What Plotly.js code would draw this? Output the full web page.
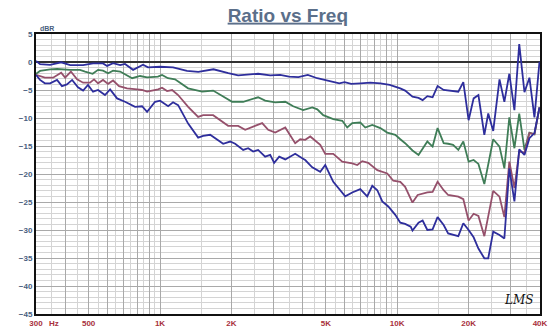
<!DOCTYPE html>
<html>
<head>
<meta charset="utf-8">
<script src="https://cdn.plot.ly/plotly-3.0.1.min.js"></script>
<style>html,body{margin:0;padding:0;background:#fff;}#chart{width:560px;height:334px;}</style>
</head>
<body>
<div id="chart"></div>
<script>
// ---- data (frequency in Hz, level in dBR) ----
var freqA = [300,312,344,383,418,474,522,575,598,634,679,712,770,848,890,1000,1135,1300,1450,1680,1940,2135,2590,2915,3210,3500,3830,4200,4600,5100,5700,6000,6400,7000,7700,8500,9300,10300,10800,11600,12300,12800,13400,14100,14800,15700,16400,17200,18100,19000,20000,21000,22000,23300,24200,25400,27000,28300,29700,31200,32700,34400,36100,37900,39800];
var dbA   = [0.2,-0.4,-0.5,-0.05,-0.55,-0.55,-0.25,-0.25,-0.7,-0.2,-0.55,-0.35,-1.4,-0.5,-0.95,-0.85,-0.95,-1.6,-1.75,-1.3,-2.0,-2.4,-2.1,-2.4,-2.3,-2.6,-2.7,-2.3,-2.9,-3.3,-3.8,-3.6,-3.9,-3.8,-3.7,-3.8,-4.1,-4.7,-5.1,-6.2,-6.4,-6.8,-6.1,-6.3,-4.3,-5.0,-5.1,-5.2,-5.3,-3.6,-10.4,-6.5,-5.9,-13.0,-9.2,-12.3,-3.1,-7.1,-2.1,-8.6,3.2,-5.4,-2.8,-9.9,0.05];

var freqB = [300,312,344,368,418,460,483,520,548,575,604,634,679,763,824,882,980,1020,1080,1157,1314,1505,1675,2014,2242,2447,2592,2775,3059,3373,3644,4013,4383,4602,4877,5376,5866,6156,6463,6986,7333,7850,8486,9080,9815,10305,10800,11600,12300,13400,14100,14800,15700,16400,17200,18100,19000,20000,21000,22000,23300,25400,27000,28300,29700,31200,32700,34400,36100,37900,39800];
var dbB   = [-2.1,-1.6,-1.3,-1.25,-1.4,-1.4,-1.7,-2.1,-1.4,-1.55,-2.0,-1.55,-1.7,-2.9,-2.5,-2.75,-2.6,-2.3,-2.9,-3.1,-4.7,-5.3,-5.1,-7.1,-7.1,-6.7,-6.3,-6.9,-7.2,-7.1,-7.9,-8.6,-8.1,-8.45,-9.5,-10.2,-10.5,-11.7,-10.9,-10.8,-11.7,-11.25,-11.8,-12.6,-13.0,-13.8,-14.5,-15.8,-16.6,-14.2,-15.1,-11.8,-14.5,-14.6,-14.8,-15.7,-14.2,-17.8,-17.5,-18.2,-21.8,-13.8,-15.1,-19.0,-9.9,-15.4,-9.2,-15.7,-12.6,-12.9,-8.1];

var freqC = [300,327,354,383,398,421,447,474,507,527,548,575,604,634,672,726,800,840,882,982,1020,1071,1125,1192,1314,1448,1520,1675,1937,2135,2286,2519,2696,2858,3059,3373,3714,3900,4094,4299,4737,4973,5376,5866,6463,6786,7124,7547,8242,9080,9627,10305,10800,11600,12200,13400,14100,14800,15700,16400,18100,19000,20000,21000,22000,23300,25400,27000,28300,29700,31200,32700,34400,36100,37900,39800];
var dbC   = [-2.3,-2.8,-2.8,-1.9,-2.8,-1.7,-3.1,-3.7,-3.7,-3.1,-3.8,-3.2,-3.9,-3.3,-4.3,-4.7,-4.9,-5.0,-5.3,-4.9,-4.6,-5.2,-5.0,-5.9,-8.0,-9.8,-9.5,-9.5,-11.4,-11.4,-12.1,-11.4,-10.9,-12.1,-12.6,-11.7,-14.5,-13.8,-13.9,-13.3,-14.8,-16.4,-16.4,-17.8,-18.1,-18.4,-17.7,-18.0,-19.3,-19.9,-21.2,-21.4,-22.3,-25.1,-23.75,-23.3,-23.2,-21.4,-22.9,-23.75,-24.05,-24.5,-28.3,-27.1,-27.5,-31.1,-23.0,-24.05,-27.7,-17.8,-22.5,-16.0,-16.2,-12.7,-12.9,-8.1];

var freqD = [300,312,327,344,368,386,405,426,451,474,497,522,548,586,616,659,712,785,840,882,953,1001,1082,1135,1192,1314,1448,1520,1627,1741,1846,1976,2074,2242,2353,2470,2592,2775,2914,3029,3181,3373,3714,3977,4094,4383,4737,4973,5376,6038,6463,6986,7475,7850,8242,8651,9170,9815,10305,10800,11400,11600,12300,12800,13400,14100,14800,15700,16400,18100,19000,20000,21000,22000,23300,24200,25400,27000,28300,29700,31200,32700,34400,36100,37900,39800];
var dbD   = [-2.3,-3.2,-3.8,-3.8,-3.2,-4.3,-4.0,-3.2,-4.5,-5.1,-4.1,-5.3,-5.0,-5.9,-4.9,-6.5,-7.1,-8.0,-7.9,-8.9,-7.1,-6.9,-7.9,-7.2,-7.7,-11.0,-13.5,-13.2,-13.0,-13.8,-14.6,-14.2,-14.6,-15.7,-15.4,-16.0,-15.7,-16.9,-16.6,-18.0,-16.9,-17.4,-16.4,-17.2,-17.5,-18.8,-19.6,-18.4,-21.4,-24.0,-23.3,-22.7,-24.0,-22.1,-22.9,-24.9,-25.8,-27.3,-28.7,-28.9,-29.4,-30.1,-28.7,-28.3,-30.0,-29.9,-27.7,-29.1,-30.6,-31.1,-28.8,-30.0,-31.3,-33.3,-35.05,-35.05,-30.3,-30.9,-31.5,-19.0,-24.9,-15.6,-16.6,-13.6,-12.7,-8.1];

var xTickVals = [300,500,1000,2000,5000,10000,20000,40000];
var xTickText = ['300','500','1K','2K','5K','10K','20K','40K'];
var yTickVals = [5,0,-5,-10,-15,-20,-25,-30,-35,-40,-45];

// ---- grid positions ----
var majorGrid = [], minorGrid = [];
[[300,1000,50],[1000,10000,500],[10000,40000,5000]].forEach(function(seg){
  for (var f = seg[0]; f <= seg[1] + 1e-6; f += seg[2]) {
    if (Math.abs(f % (seg[2]*2)) < 1e-6) { if (majorGrid.indexOf(f) < 0) majorGrid.push(f); }
    else minorGrid.push(f);
  }
});
var majorText = majorGrid.map(function(f){
  var i = xTickVals.indexOf(f); return i >= 0 ? xTickText[i] : '';
});

function tr(x, y, color) {
  return {x: x, y: y, type: 'scatter', mode: 'lines',
          line: {color: color, width: 1.8}, hoverinfo: 'skip', showlegend: false};
}
var data = [
  tr(freqA, dbA, '#2e2e9c'),
  tr(freqB, dbB, '#3f7d57'),
  tr(freqC, dbC, '#95506b'),
  tr(freqD, dbD, '#2e2e9c')
];

var layout = {
  width: 560, height: 334,
  margin: {l: 36, r: 20, t: 34, b: 20},
  paper_bgcolor: '#ffffff', plot_bgcolor: '#ffffff',
  showlegend: false,
  title: {text: '<b><u>Ratio vs Freq</u></b>', xref: 'container', yref: 'container',
          x: 0.514, xanchor: 'center', y: 0.955, yanchor: 'middle',
          font: {family: 'Liberation Sans, Arial, sans-serif', size: 19, color: '#5b6f8a'}},
  xaxis: {type: 'log', range: [Math.log10(300), Math.log10(40000)],
          tickmode: 'array', tickvals: majorGrid, ticktext: majorText,
          showgrid: true, gridcolor: '#a9a9a9', gridwidth: 1,
          minor: {tickmode: 'array', tickvals: minorGrid, showgrid: true, gridcolor: '#d4d4d4', gridwidth: 1, ticks: ''},
          ticks: '', showline: true, linecolor: '#111', linewidth: 2, mirror: true,
          zeroline: false, ticklabelstandoff: 0,
          tickfont: {family: 'Liberation Sans, Arial, sans-serif', size: 8, color: '#a8303c', weight: 'bold'}},
  yaxis: {range: [-45, 5], tickmode: 'array', tickvals: yTickVals,
          showgrid: true, gridcolor: '#a9a9a9', gridwidth: 1,
          minor: {dtick: 1, showgrid: true, gridcolor: '#d4d4d4', gridwidth: 1, ticks: ''},
          ticks: '', showline: true, linecolor: '#111', linewidth: 2, mirror: true,
          zeroline: true, zerolinecolor: '#333', zerolinewidth: 1.5,
          tickfont: {family: 'Liberation Sans, Arial, sans-serif', size: 8, color: '#4a5f80', weight: 'bold'}},
  annotations: [
    {text: '<b>dBR</b>', xref: 'paper', yref: 'paper', x: 0.004, y: 1.0, xanchor: 'left', yanchor: 'bottom',
     showarrow: false, font: {family: 'Liberation Sans, Arial, sans-serif', size: 7, color: '#4a5f80'}},
    {text: '<b>Hz</b>', xref: 'paper', yref: 'paper', x: 0.022, y: -0.012, xanchor: 'left', yanchor: 'top',
     showarrow: false, font: {family: 'Liberation Sans, Arial, sans-serif', size: 8, color: '#a8303c'}},
    {text: '<i>LMS</i>', xref: 'paper', yref: 'paper', x: 0.958, y: 0.05, xanchor: 'center', yanchor: 'middle',
     showarrow: false, font: {family: 'DejaVu Serif, serif', size: 12, color: '#111'}}
  ]
};
Plotly.newPlot('chart', data, layout, {staticPlot: true, displayModeBar: false});
</script>
</body>
</html>
